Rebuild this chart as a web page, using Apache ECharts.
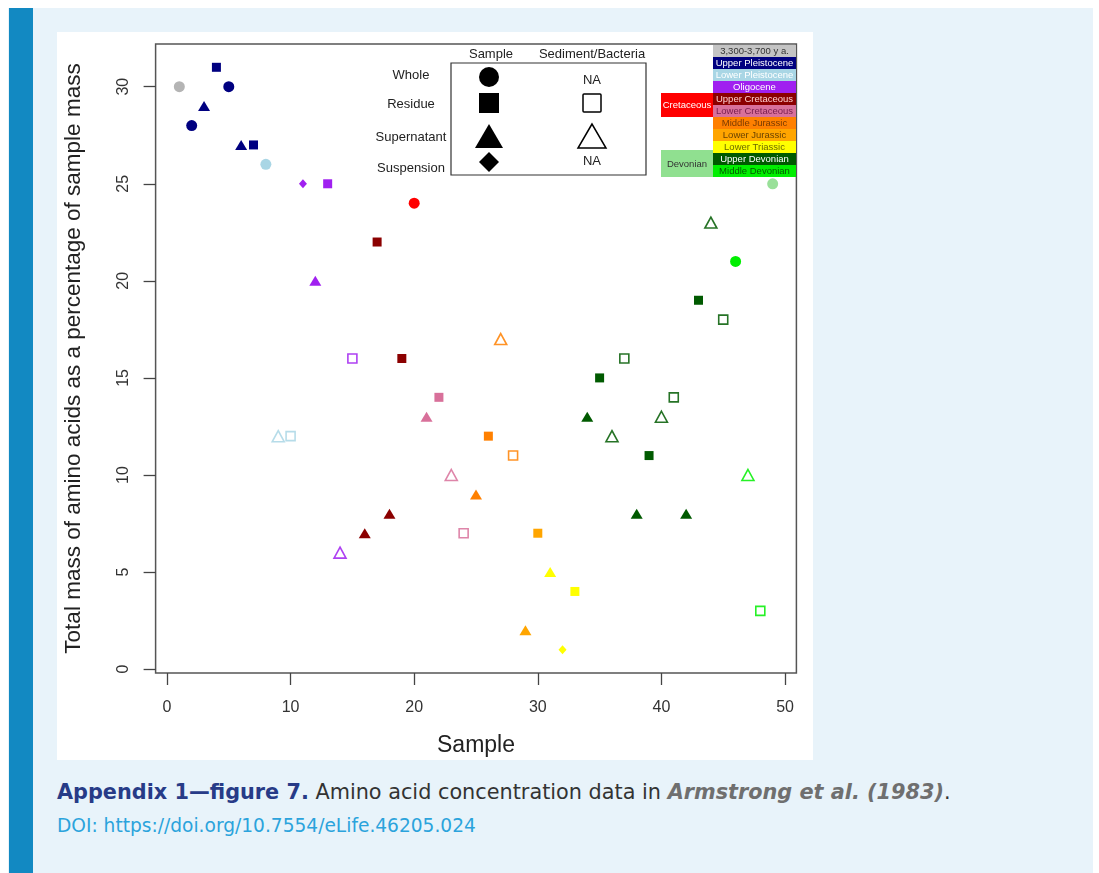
<!DOCTYPE html>
<html><head><meta charset="utf-8">
<script src="https://cdn.jsdelivr.net/npm/echarts@6/dist/echarts.min.js"></script>
<style>
html,body{margin:0;padding:0;width:1099px;height:873px;background:#fff;overflow:hidden;}
#panel{position:absolute;left:8px;top:8px;width:1085px;height:865px;background:#e8f3fa;}
#bar{position:absolute;left:9px;top:8px;width:24px;height:865px;background:#1289c2;}
#chart{position:absolute;left:57px;top:32px;width:756px;height:728px;background:#fff;}
#cap1{position:absolute;left:57px;top:780px;font-family:"DejaVu Sans","Noto Sans",sans-serif;font-size:20.8px;color:#333;white-space:nowrap;}
#cap1 b{color:#273b87;font-weight:700;}
#cap1 i{color:#6f6f6f;font-weight:700;}
#cap2{position:absolute;left:57px;top:815px;font-family:"DejaVu Sans","Noto Sans",sans-serif;font-size:18.6px;color:#2ba3dc;white-space:nowrap;}
</style></head>
<body>
<div id="panel"></div><div id="bar"></div>
<div id="chart"></div>
<div id="cap1"><b>Appendix 1—figure 7.</b> Amino acid concentration data in <i>Armstrong et al. (1983)</i>.</div>
<div id="cap2">DOI: https://doi.org/10.7554/eLife.46205.024</div>
<script>
// ---- data ----
const samples = [1,2,3,4,5,6,7,8,9,10,11,12,13,14,15,16,17,18,19,20,21,22,23,24,25,26,27,28,29,30,31,32,33,34,35,36,37,38,39,40,41,42,43,44,45,46,47,48,49];
const aminoMass = [30,28,29,31,30,27,27,26,12,12,25,20,25,6,16,7,22,8,16,24,13,14,10,7,9,12,17,11,2,7,5,1,4,13,15,12,16,8,11,13,14,8,19,23,18,21,10,3,25];
const fraction = ['Whole','Whole','Supernatant','Residue','Whole','Supernatant','Residue','Whole','Supernatant','Residue',
  'Suspension','Supernatant','Residue','Supernatant','Residue','Supernatant','Residue','Supernatant','Residue','Whole',
  'Supernatant','Residue','Supernatant','Residue','Supernatant','Residue','Supernatant','Residue','Supernatant','Residue',
  'Supernatant','Suspension','Residue','Supernatant','Residue','Supernatant','Residue','Supernatant','Residue','Supernatant',
  'Residue','Supernatant','Residue','Supernatant','Residue','Whole','Supernatant','Residue','Whole'];
const source = ['S','S','S','S','S','S','S','S','B','B','S','S','S','B','B','S','S','S','S','S','S','S','B','B','S','S','B','B','S','S',
  'S','S','S','S','S','B','B','S','S','B','B','S','S','B','B','S','B','B','S'];
const age = ['3,300-3,700 y a.','Upper Pleistocene','Upper Pleistocene','Upper Pleistocene','Upper Pleistocene','Upper Pleistocene','Upper Pleistocene',
  'Lower Pleistocene','Lower Pleistocene','Lower Pleistocene',
  'Oligocene','Oligocene','Oligocene','Oligocene','Oligocene',
  'Upper Cretaceous','Upper Cretaceous','Upper Cretaceous','Upper Cretaceous','Cretaceous',
  'Lower Cretaceous','Lower Cretaceous','Lower Cretaceous','Lower Cretaceous',
  'Middle Jurassic','Middle Jurassic','Middle Jurassic','Middle Jurassic','Lower Jurassic','Lower Jurassic',
  'Lower Triassic','Lower Triassic','Lower Triassic',
  'Upper Devonian','Upper Devonian','Upper Devonian','Upper Devonian','Upper Devonian','Upper Devonian','Upper Devonian','Upper Devonian','Upper Devonian','Upper Devonian','Upper Devonian','Upper Devonian',
  'Middle Devonian','Middle Devonian','Middle Devonian','Devonian'];
const xTicks = [0,10,20,30,40,50];
const yTicks = [0,5,10,15,20,25,30];
const periodNames = ['3,300-3,700 y a.','Upper Pleistocene','Lower Pleistocene','Oligocene','Upper Cretaceous','Lower Cretaceous','Middle Jurassic','Lower Jurassic','Lower Triassic','Upper Devonian','Middle Devonian'];
const periodColors = ['#c4c4c4','#000080','#a9d6e5','#a020f0','#8b0000','#d8709a','#ff8000','#ffa500','#ffff00','#005a00','#00ee00'];
const periodText = ['#333333','#ffffff','#ffffff','#ffffff','#ffd0d0','#7a2050','#7a3a00','#6a4200','#6a6a00','#ffffff','#005a00'];
const groupNames = ['Cretaceous','Devonian'];
const groupColors = ['#ff0000','#90e090'];

const colorOf = {};
periodNames.forEach((p,i)=>colorOf[p]=periodColors[i]);
colorOf['Cretaceous'] = '#ff0000';
colorOf['Devonian'] = '#99e099';
colorOf['3,300-3,700 y a.'] = '#b4b4b4';

const symOf = {Whole:'circle', Residue:'rect', Supernatant:'triangle', Suspension:'diamond'};
const sizeOf = {Whole:11, Residue:9, Supernatant:[12,10], Suspension:[8,9]};

const points = samples.map((s,i)=>{
  const c = colorOf[age[i]];
  const open = source[i]==='B';
  const f = fraction[i];
  return {
    value:[s, aminoMass[i]],
    symbol: symOf[f],
    symbolSize: open ? (f==='Residue' ? 9 : [12,11]) : sizeOf[f],
    itemStyle: open ? {color:'#ffffff', borderColor:c, borderWidth:1.6, opacity:0.85} : {color:c, borderWidth:0, opacity:1}
  };
});

// ---- legends (graphic) ----
const OX = 57, OY = 32;
const g = [];
const lf = 'Liberation Sans, Arial, sans-serif';
// shape legend
g.push({type:'rect', shape:{x:451-OX, y:63-OY, width:195, height:112}, style:{fill:'none', stroke:'#333', lineWidth:1.2}});
g.push({type:'text', style:{text:'Sample', x:491-OX, y:54-OY, align:'center', verticalAlign:'middle', font:'13px '+lf, fill:'#222'}});
g.push({type:'text', style:{text:'Sediment/Bacteria', x:592-OX, y:54-OY, align:'center', verticalAlign:'middle', font:'13px '+lf, fill:'#222'}});
[['Whole',75],['Residue',104],['Supernatant',137],['Suspension',168]].forEach(r=>{
  g.push({type:'text', style:{text:r[0], x:411-OX, y:r[1]-OY, align:'center', verticalAlign:'middle', font:'13px '+lf, fill:'#222'}});
});
const cx1 = 489-OX, cx2 = 592-OX;
g.push({type:'circle', shape:{cx:cx1, cy:77-OY, r:10}, style:{fill:'#000'}});
g.push({type:'rect', shape:{x:cx1-10, y:103-OY-10, width:20, height:20}, style:{fill:'#000'}});
g.push({type:'polygon', shape:{points:[[cx1,124-OY],[cx1-14,148-OY],[cx1+14,148-OY]]}, style:{fill:'#000'}});
g.push({type:'polygon', shape:{points:[[cx1,152-OY],[cx1+10,162-OY],[cx1,172-OY],[cx1-10,162-OY]]}, style:{fill:'#000'}});
g.push({type:'text', style:{text:'NA', x:cx2, y:80-OY, align:'center', verticalAlign:'middle', font:'13px '+lf, fill:'#222'}});
g.push({type:'rect', shape:{x:cx2-9, y:103-OY-9, width:18, height:18, r:1}, style:{fill:'none', stroke:'#000', lineWidth:1.5}});
g.push({type:'polygon', shape:{points:[[cx2,124-OY],[cx2-14,148-OY],[cx2+14,148-OY]]}, style:{fill:'none', stroke:'#000', lineWidth:1.5}});
g.push({type:'text', style:{text:'NA', x:cx2, y:161-OY, align:'center', verticalAlign:'middle', font:'13px '+lf, fill:'#222'}});
// colour legend
const lx = 713-OX, lw = 83, ly0 = 45-OY, rh = 12;
periodNames.forEach((p,i)=>{
  g.push({type:'rect', shape:{x:lx, y:ly0+i*rh, width:lw, height:rh}, style:{fill:periodColors[i]}});
  g.push({type:'text', style:{text:p, x:lx+lw/2, y:ly0+i*rh+rh/2+0.5, align:'center', verticalAlign:'middle', font:'9.5px '+lf, fill:periodText[i]}});
});
g.push({type:'rect', shape:{x:661-OX, y:ly0+4*rh, width:52, height:2*rh}, style:{fill:groupColors[0]}});
g.push({type:'text', style:{text:groupNames[0], x:687-OX, y:ly0+5*rh, align:'center', verticalAlign:'middle', font:'9.5px '+lf, fill:'#fff'}});
g.push({type:'rect', shape:{x:661-OX, y:ly0+9*rh-3, width:52, height:2*rh+3}, style:{fill:groupColors[1]}});
g.push({type:'text', style:{text:groupNames[1], x:687-OX, y:ly0+10*rh-1, align:'center', verticalAlign:'middle', font:'9.5px '+lf, fill:'#333'}});

const chart = echarts.init(document.getElementById('chart'), null, {renderer:'canvas'});
chart.setOption({
  backgroundColor:'#ffffff',
  animation:false,
  grid:{left:98.6, right:16.6, top:12, bottom:87, show:true, borderColor:'#555', borderWidth:1.5, backgroundColor:'transparent', containLabel:false, outerBoundsMode:'none'},
  xAxis:{type:'value', min:-0.92, max:50.92,
    name:'Sample', nameLocation:'middle', nameGap:61,
    nameTextStyle:{fontFamily:lf, fontSize:23, color:'#222'},
    axisLine:{show:false, onZero:false},
    axisTick:{show:true, inside:false, length:12, customValues:xTicks, lineStyle:{color:'#444', width:1.3}},
    axisLabel:{customValues:xTicks, margin:27, fontFamily:lf, fontSize:16, color:'#333'},
    splitLine:{show:false}},
  yAxis:{type:'value', min:-0.2, max:32.2,
    name:'Total mass of amino acids as a percentage of sample mass', nameLocation:'middle', nameGap:70, nameRotate:90,
    nameTextStyle:{fontFamily:lf, fontSize:22.5, color:'#222'},
    axisLine:{show:false, onZero:false},
    axisTick:{show:true, inside:false, length:12, customValues:yTicks, lineStyle:{color:'#444', width:1.3}},
    axisLabel:{customValues:yTicks, rotate:90, margin:24, fontFamily:lf, fontSize:16, color:'#333'},
    splitLine:{show:false}},
  series:[{type:'scatter', data:points, z:3}],
  graphic:g
});
</script>
</body></html>
